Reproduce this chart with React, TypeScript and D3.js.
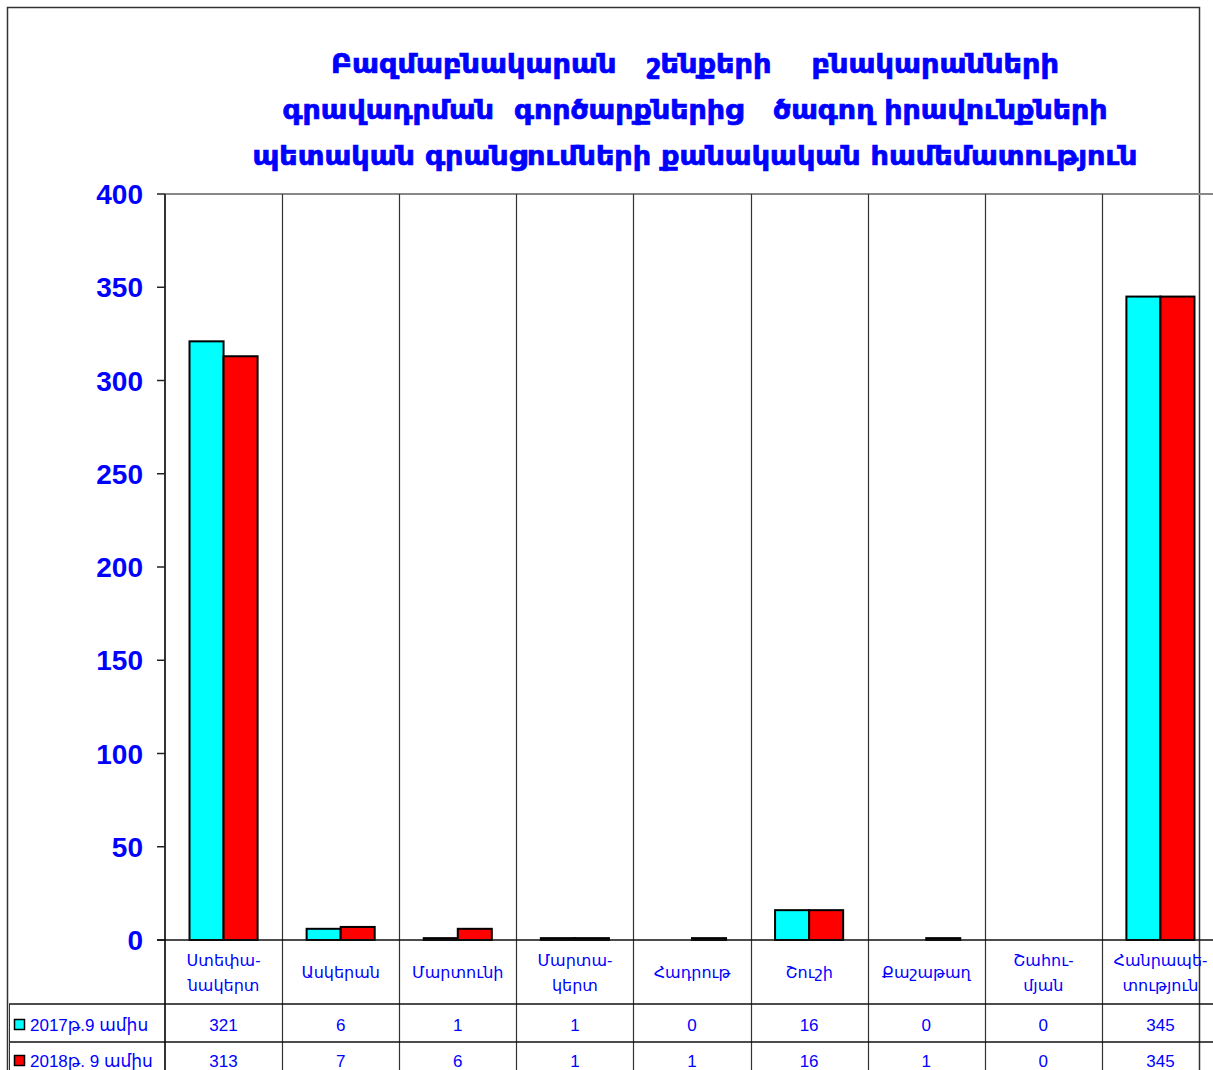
import React, { useRef, useEffect } from "react";
import * as d3 from "d3";

// chart data
const categories = [
  ["Ստեփա-", "նակերտ"],
  ["Ասկերան"],
  ["Մարտունի"],
  ["Մարտա-", "կերտ"],
  ["Հադրութ"],
  ["Շուշի"],
  ["Քաշաթաղ"],
  ["Շահու-", "մյան"],
  ["Հանրապե-", "տություն"],
];
const seriesNames = ["2017թ.9 ամիս", "2018թ. 9 ամիս"];
const values2017 = [321, 6, 1, 1, 0, 16, 0, 0, 345];
const values2018 = [313, 7, 6, 1, 1, 16, 1, 0, 345];
const seriesColors = ["#00ffff", "#ff0000"];
const yTicks = [0, 50, 100, 150, 200, 250, 300, 350, 400];
const titleLines = [
  "Բազմաբնակարան   շենքերի    բնակարանների",
  "գրավադրման  գործարքներից   ծագող իրավունքների",
  "պետական գրանցումների քանակական համեմատություն",
];

const BLUE = "#0000ff";

const App = () => {
  const svgRef = useRef<SVGSVGElement>(null);

  useEffect(() => {
    const svg = d3.select(svgRef.current);
    svg.selectAll("*").remove();

    const plot = { left: 165, right: 1219, top: 194, bottom: 940 };
    const rowLines = [1004, 1042, 1080];

    const keys = categories.map((c, i) => String(i));
    const x = d3.scaleBand().domain(keys).range([plot.left, plot.right]).padding(0);
    const xs = d3
      .scaleBand()
      .domain(["0", "1"])
      .range([0, x.bandwidth()])
      .paddingInner(0)
      .paddingOuter(0.72);
    const y = d3.scaleLinear().domain([0, 400]).range([plot.bottom, plot.top]);

    // white background + outer chart border
    svg.append("rect").attr("width", 1213).attr("height", 1070).attr("fill", "#fff");
    svg
      .append("rect")
      .attr("x", 7.5)
      .attr("y", 7.5)
      .attr("width", 1192)
      .attr("height", 1100)
      .attr("fill", "none")
      .attr("stroke", "#333")
      .attr("stroke-width", 1.5);

    // title
    const tops = [73, 119, 165];
    const lens = [728, 825, 885];
    titleLines.forEach((t, i) => {
      svg
        .append("text")
        .attr("x", 695)
        .attr("y", tops[i])
        .attr("text-anchor", "middle")
        .attr("font-family", "DejaVu Sans")
        .attr("font-weight", "bold")
        .attr("font-size", 26)
        .attr("fill", BLUE)
        .attr("stroke", BLUE)
        .attr("stroke-width", 0.7)
        .attr("textLength", lens[i])
        .attr("lengthAdjust", "spacingAndGlyphs")
        .style("white-space", "pre")
        .text(t);
    });

    // plot frame top
    svg
      .append("line")
      .attr("x1", plot.left)
      .attr("x2", plot.right)
      .attr("y1", plot.top)
      .attr("y2", plot.top)
      .attr("stroke", "#888")
      .attr("stroke-width", 2);

    // vertical category separators (plot + table)
    keys.forEach((k) => {
      const xx = Math.round(x(k)! + x.bandwidth()) + 0.5;
      svg
        .append("line")
        .attr("x1", xx)
        .attr("x2", xx)
        .attr("y1", plot.top)
        .attr("y2", 1080)
        .attr("stroke", "#333")
        .attr("stroke-width", 1.2);
    });

    // bars
    const series = [values2017, values2018];
    series.forEach((vals, s) => {
      svg
        .append("g")
        .selectAll("rect")
        .data(vals.map((v, i) => ({ v, i })).filter((d) => d.v > 0))
        .join("rect")
        .attr("x", (d) => x(String(d.i))! + xs(String(s))!)
        .attr("y", (d) => y(d.v))
        .attr("width", xs.bandwidth())
        .attr("height", (d) => y(0) - y(d.v))
        .attr("fill", seriesColors[s])
        .attr("stroke", "#000")
        .attr("stroke-width", 2);
    });

    // y axis
    svg
      .append("line")
      .attr("x1", plot.left)
      .attr("x2", plot.left)
      .attr("y1", plot.top)
      .attr("y2", 1080)
      .attr("stroke", "#333")
      .attr("stroke-width", 2);
    yTicks.forEach((t) => {
      svg
        .append("line")
        .attr("x1", plot.left - 8)
        .attr("x2", plot.left)
        .attr("y1", y(t))
        .attr("y2", y(t))
        .attr("stroke", "#222")
        .attr("stroke-width", 1.5);
      svg
        .append("text")
        .attr("x", 143)
        .attr("y", y(t))
        .attr("dy", "0.36em")
        .attr("text-anchor", "end")
        .attr("font-family", "Liberation Sans, Arial, sans-serif")
        .attr("font-weight", "bold")
        .attr("font-size", 28)
        .attr("fill", BLUE)
        .text(t);
    });

    // x axis line
    svg
      .append("line")
      .attr("x1", plot.left - 8)
      .attr("x2", plot.right)
      .attr("y1", plot.bottom)
      .attr("y2", plot.bottom)
      .attr("stroke", "#111")
      .attr("stroke-width", 1.5);

    // data table rows
    rowLines.forEach((ry) => {
      svg
        .append("line")
        .attr("x1", 9)
        .attr("x2", 1213)
        .attr("y1", ry)
        .attr("y2", ry)
        .attr("stroke", "#111")
        .attr("stroke-width", 1.5);
    });
    svg
      .append("line")
      .attr("x1", 9.5)
      .attr("x2", 9.5)
      .attr("y1", rowLines[0])
      .attr("y2", 1080)
      .attr("stroke", "#333");

    const font = "Liberation Sans, Arial, DejaVu Sans, sans-serif";

    // category labels
    categories.forEach((lines, i) => {
      const cx = x(String(i))! + x.bandwidth() / 2;
      const t = svg
        .append("text")
        .attr("text-anchor", "middle")
        .attr("font-family", font)
        .attr("font-size", 16)
        .attr("fill", BLUE);
      lines.forEach((ln, j) => {
        const cy = lines.length === 1 ? 972 : 960 + j * 25;
        t.append("tspan").attr("x", cx).attr("y", cy).attr("dy", "0.36em").text(ln);
      });
    });

    // table values + legend keys
    const rowMid = [1025, 1061];
    series.forEach((vals, s) => {
      svg
        .append("rect")
        .attr("x", 14.5)
        .attr("y", rowMid[s] - 5.5)
        .attr("width", 10)
        .attr("height", 10)
        .attr("fill", seriesColors[s])
        .attr("stroke", "#000")
        .attr("stroke-width", 1.5);
      svg
        .append("text")
        .attr("x", 30)
        .attr("y", rowMid[s])
        .attr("dy", "0.36em")
        .attr("font-family", font)
        .attr("font-size", 17)
        .attr("fill", BLUE)
        .text(seriesNames[s]);
      vals.forEach((v, i) => {
        svg
          .append("text")
          .attr("x", x(String(i))! + x.bandwidth() / 2)
          .attr("y", rowMid[s])
          .attr("dy", "0.36em")
          .attr("text-anchor", "middle")
          .attr("font-family", font)
          .attr("font-size", 17)
          .attr("fill", BLUE)
          .text(v);
      });
    });
  }, []);

  return (
    <svg
      ref={svgRef}
      width={1213}
      height={1070}
      style={{ position: "absolute", left: 0, top: 0, display: "block" }}
    ></svg>
  );
};

export default App;
